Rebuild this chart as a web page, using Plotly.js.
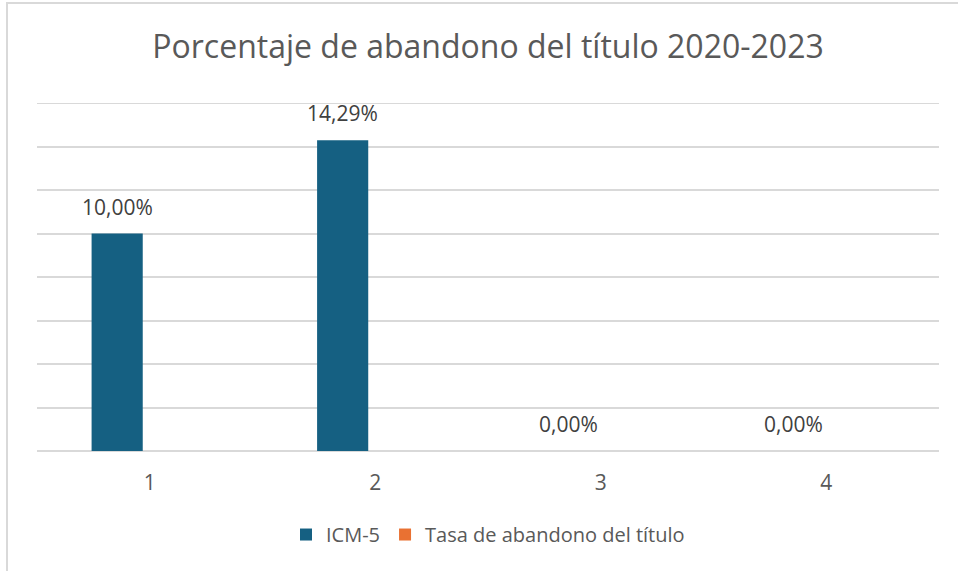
<!DOCTYPE html>
<html>
<head>
<meta charset="utf-8">
<script src="https://cdn.plot.ly/plotly-3.0.1.min.js"></script>
<style>
  html, body { margin: 0; padding: 0; background: #ffffff; overflow: hidden; }
  #frame { position: absolute; left: 6px; top: 2px; width: 1000px; height: 620px;
           border: 2px solid #d9d9d9; box-sizing: border-box; }
  #chart { position: absolute; left: 0; top: 0; width: 958px; height: 571px; }
</style>
</head>
<body>
<div id="frame"></div>
<div id="chart"></div>
<script>
const categories = ["1", "2", "3", "4"];
const icm5Values = [10.00, 14.29, 0.00, 0.00];
const icm5Labels = ["10,00%", "14,29%", "0,00%", "0,00%"];
const tasaValues = [null, null, null, null];
const seriesNames = ["ICM-5", "Tasa de abandono del título"];
const titleText = "Porcentaje de abandono del título 2020-2023";
const yMax = 16;

const FONT = "'Open Sans', sans-serif";

const traces = [
  {
    type: "bar",
    name: seriesNames[0],
    x: categories,
    y: icm5Values,
    marker: { color: "#156082", line: { width: 0 } },
    hoverinfo: "none"
  },
  {
    type: "bar",
    name: seriesNames[1],
    x: categories,
    y: tasaValues,
    marker: { color: "#E97132", line: { width: 0 } },
    hoverinfo: "none"
  }
];

const annotations = categories.map((c, i) => ({
  x: i,
  y: icm5Values[i],
  xref: "x",
  yref: "y",
  text: icm5Labels[i],
  showarrow: false,
  xanchor: "center",
  yanchor: "bottom",
  xshift: -32.6,
  yshift: 11,
  font: { family: FONT, size: 21, color: "#404040" }
}));

const layout = {
  width: 958,
  height: 571,
  paper_bgcolor: "rgba(0,0,0,0)",
  plot_bgcolor: "rgba(0,0,0,0)",
  margin: { l: 37, r: 19, t: 103, b: 120, pad: 0 },
  title: {
    text: titleText,
    x: 0.5,
    xanchor: "center",
    xref: "paper",
    y: 1 - 47 / 571,
    yanchor: "middle",
    font: { family: FONT, size: 32, color: "#595959" }
  },
  barmode: "group",
  bargap: 0.422,
  bargroupgap: 0.215,
  xaxis: {
    type: "category",
    range: [-0.5, 3.5],
    showgrid: false,
    zeroline: false,
    showline: false,
    ticks: "",
    ticklabelstandoff: 17,
    tickfont: { family: FONT, size: 21, color: "#595959" },
    automargin: false
  },
  yaxis: {
    range: [0, yMax],
    dtick: 2,
    showticklabels: false,
    showgrid: true,
    gridcolor: "#d9d9d9",
    gridwidth: 2,
    zeroline: true,
    zerolinecolor: "#d9d9d9",
    zerolinewidth: 2,
    showline: false,
    ticks: "",
    automargin: false
  },
  shapes: [
    {
      type: "line", xref: "paper", yref: "y",
      x0: 0, x1: 1, y0: yMax, y1: yMax,
      line: { color: "#d9d9d9", width: 2 },
      layer: "below"
    }
  ],
  showlegend: true,
  legend: {
    orientation: "h",
    x: 0.5,
    xanchor: "center",
    y: -0.24,
    yanchor: "middle",
    font: { family: FONT, size: 20, color: "#595959" },
    itemsizing: "constant",
    itemwidth: 30,
    traceorder: "normal"
  },
  annotations: annotations,
  font: { family: FONT }
};

Plotly.newPlot("chart", traces, layout, { displayModeBar: false, staticPlot: true });
</script>
</body>
</html>
